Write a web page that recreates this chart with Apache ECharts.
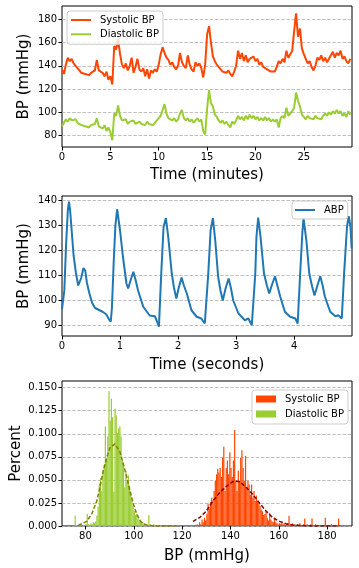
<!DOCTYPE html>
<html><head><meta charset="utf-8">
<script src="https://cdn.jsdelivr.net/npm/echarts@6/dist/echarts.min.js"></script>
<style>html,body{margin:0;padding:0;background:#fff}#c{width:359px;height:568px}</style>
</head><body><div id="c"></div>
<script>
// ---------- Data ----------
// Panel 1: per-minute trend, one sample every 0.2 min starting at 0
const trendStartMin = 0;
const trendStepMin = 0.2;
const systolicTrend = [
  137,133,141,147,144,146,142,143,138,136,
  134,135,133,134,132,134,133,136,145,136,
  137,134,131,135,128,131,124,157,154,163,
  150,141,138,142,136,140,147,134,139,146,
  137,135,138,131,137,129,136,134,137,135,
  141,150,156,151,147,145,141,143,139,137,
  140,151,143,140,138,149,141,137,135,143,
  140,142,138,130,141,167,174,160,148,144,
  141,139,137,135,136,134,136,133,131,135,
  140,153,146,151,144,149,143,146,145,148,
  144,146,141,143,139,140,137,138,135,136,
  135,139,144,142,146,143,153,147,150,153,
  170,185,165,172,155,150,146,142,144,139,
  136,140,147,145,149,144,147,143,146,149,
  152,147,151,149,153,146,148,144,142,146
];
const diastolicTrend = [
  88,91,94,92,95,93,92,94,91,92,
  89,90,88,89,87,89,88,90,95,88,
  89,86,89,84,87,83,76,99,97,106,
  97,93,92,94,90,92,91,93,90,91,
  92,90,91,89,92,90,91,89,91,93,
  92,97,102,107,99,95,94,93,95,92,
  94,99,102,95,93,95,92,94,91,93,
  95,92,94,84,81,103,119,108,105,98,
  96,93,91,93,90,92,89,87,92,90,
  93,97,94,96,93,97,94,98,95,97,
  94,96,93,95,93,96,93,95,92,94,
  92,94,87,95,97,95,104,97,99,101,
  104,117,110,105,98,96,94,97,95,96,
  94,97,95,96,94,97,99,97,100,98,
  101,99,102,99,101,97,99,96,101,98
];

// Panel 2: arterial waveform
const abpTime = [
  0.00,0.02,0.04,0.07,0.10,0.12,0.14,0.17,0.20,0.24,0.28,0.30,0.33,0.37,0.40,0.43,0.47,0.52,0.57,0.63,0.70,0.76,0.81,0.84,0.86,0.89,0.92,0.95,
  1.00,1.05,1.11,1.14,1.18,1.23,1.27,1.31,1.40,1.51,1.60,1.63,1.67,1.71,1.75,1.79,
  1.83,1.89,1.93,1.97,2.01,2.06,2.10,2.15,2.23,2.32,2.40,2.46,2.52,2.56,2.60,
  2.64,2.69,2.73,2.77,2.82,2.87,2.91,2.95,3.04,3.15,3.21,3.27,3.33,3.35,3.38,
  3.42,3.48,3.53,3.57,3.62,3.67,3.71,3.76,3.84,3.93,4.02,4.06,4.10,4.14,4.16,
  4.21,4.26,4.31,4.35,4.40,4.45,4.49,4.53,4.62,4.71,4.76,4.82,4.86,4.91,4.94,4.97,4.99
];
const abpValue = [
  96.5,97,104,122,136,139.5,136,127,118,111,106,105.5,109,113,112,107,103,99,97,96.3,95.5,94.5,92.5,91.5,97,115,130,136.5,
  128,117.5,106.8,104.8,108,111.5,108,104,97.5,94,93.7,92,89.5,111,129.5,133,
  125.5,111,105,100.8,105,109.2,106,102.8,96.1,93.5,92.8,90.8,110.8,128,133,
  124,109.5,104,100,105,108.8,105,100,94.8,92.1,92.8,90.1,110.8,125.5,133.2,
  125.5,110.8,106,102.8,106.5,109.7,106,101.5,95.5,93.5,92.8,90.8,109.5,126.8,133,
  124,110.8,105.5,102,106,109.7,106,101.5,95.5,93.7,94.1,92.8,110.8,129.5,133.7,129.5,120.8
];

// Panel 3: histograms (density per bin)
const binWidth = 0.5;
const diastolicBinStart = 75.5;
const diastolicDensity = [
  0.011,0.001,0,0.001,0,0.001,0,0.001,0,0.002,
  0.013,0.002,0.001,0.003,0.002,0.004,0.003,0.005,0.011,0.021,
  0.046,0.052,0.038,0.059,0.066,0.108,0.072,0.097,0.146,0.114,
  0.138,0.118,0.037,0.127,0.12,0.101,0.106,0.108,0.097,0.071,
  0.068,0.042,0.06,0.048,0.055,0.044,0.037,0.03,0.022,0.016,
  0.012,0.013,0.008,0.007,0.005,0.004,0.004,0.003,0.002,0.001,
  0.001,0.012,0.002,0.001,0.001,0.002,0.001,0,0.001,0.001,
  0,0.001,0,0,0,0,0,0.001,0,0.001,
  0,0.001,0,0,0,0.001
];
const systolicBinStart = 124;
const systolicDensity = [
  0,0,0,0.001,0.002,0,0.004,0.002,0.007,0.004,
  0.009,0.006,0.013,0.024,0.019,0.026,0.031,0.028,0.038,0.049,
  0.056,0.062,0.058,0.063,0.053,0.074,0.086,0.038,0.063,0.071,
  0.056,0.08,0.063,0.053,0.071,0.104,0.049,0.038,0.06,0.049,
  0.074,0.082,0.063,0.049,0.076,0.042,0.049,0.045,0.034,0.045,
  0.031,0.038,0.027,0.033,0.027,0.024,0.022,0.018,0.016,0.012,
  0.013,0.016,0.009,0.006,0.014,0.007,0.005,0.004,0.009,0.004,
  0.003,0.002,0.003,0.002,0.004,0.002,0.003,0.001,0.002,0.003,
  0.011,0.002,0.001,0.003,0.001,0.002,0,0.002,0.001,0.003,
  0.001,0,0.002,0.008,0.001,0.002,0,0.001,0.002,0.008,
  0.001,0,0.002,0.001,0,0.001,0,0.001,0,0.001,
  0.009,0.001,0,0.001,0,0.002,0,0.001,0,0.001,
  0,0.008,0
];
// fitted normal curves
const diastolicFitX = [77,78.5,80.5,82.6,84.7,86,87.4,88.8,90.2,92.2,94.3,95.7,97.1,98.4,99.8,101.2,102.6,103.9,106,110,118];
const diastolicFitY = [0.0005,0.0025,0.005,0.013,0.027,0.042,0.06,0.074,0.085,0.089,0.08,0.067,0.053,0.038,0.024,0.013,0.006,0.0025,0.0005,0,0];
const systolicFitX = [124.5,127.2,130,132.7,135.5,138.3,141,142.5,143.8,146.5,149.3,152,154.8,157.5,160.3,163,165.8,170,175,180,185];
const systolicFitY = [0.005,0.009,0.016,0.027,0.036,0.043,0.048,0.0485,0.048,0.042,0.034,0.025,0.016,0.009,0.005,0.0025,0.001,0.0003,0,0,0];

// tick labels
const trendXTicks = [0,5,10,15,20,25];
const trendYTicks = [80,100,120,140,160,180];
const abpXTicks = [0,1,2,3,4];
const abpYTicks = [90,100,110,120,130,140];
const histXTicks = [80,100,120,140,160,180];
const histYTicks = [0,0.025,0.05,0.075,0.1,0.125,0.15];

// ---------- Chart ----------
const FONT = 'DejaVu Sans';
const C_SYS = '#FF4500', C_DIA = '#9ACD32', C_ABP = '#1f77b4';
const chart = echarts.init(document.getElementById('c'), null, {renderer:'canvas', width:359, height:568});

function grid(top, height){
  return {left:62, top:top, width:290, height:height, show:true, borderColor:'#000', borderWidth:1,
          backgroundColor:'rgba(0,0,0,0)', containLabel:false, outerBoundsMode:'none'};
}
function xAxis(gi, min, max, ticks, name, gap, fmt){
  return {type:'value', gridIndex:gi, min:min, max:max, name:name, nameLocation:'middle', nameGap:gap,
    nameMoveOverlap:false,
    nameTextStyle:{color:'#000', fontFamily:FONT, fontSize:15},
    axisLine:{show:false}, splitLine:{show:false},
    axisTick:{show:true, length:3.5, customValues:ticks, lineStyle:{color:'#000', width:1}},
    axisLabel:{customValues:ticks, color:'#000', fontFamily:FONT, fontSize:10, margin:5, formatter:fmt||(v=>String(v))}};
}
function yAxis(gi, min, max, ticks, name, gap, fmt){
  return {type:'value', gridIndex:gi, min:min, max:max, name:name, nameLocation:'middle', nameGap:gap, nameRotate:90,
    nameMoveOverlap:false,
    nameTextStyle:{color:'#000', fontFamily:FONT, fontSize:15},
    axisLine:{show:false},
    splitLine:{show:true, lineStyle:{color:'#b0b0b0', width:0.8, type:[3.5,1.6]}},
    axisTick:{show:true, length:3.5, customValues:ticks, lineStyle:{color:'#000', width:1}},
    axisLabel:{customValues:ticks, color:'#000', fontFamily:FONT, fontSize:10, margin:5, formatter:fmt||(v=>String(v))}};
}
function histData(start, dens){
  return dens.map((d,i)=>[start+i*binWidth, start+(i+1)*binWidth, d]);
}
function renderBar(params, api){
  const p0 = api.coord([api.value(0), api.value(2)]);
  const p1 = api.coord([api.value(1), 0]);
  return {type:'rect', shape:{x:p0[0], y:p0[1], width:p1[0]-p0[0], height:p1[1]-p0[1]},
          style:{fill:api.visual('color')}};
}
const legendText = {color:'#000', fontFamily:FONT, fontSize:10, lineHeight:12, padding:[0,0,0,4]};
const legendBox = {backgroundColor:'rgba(255,255,255,0.8)', borderColor:'#cccccc', borderWidth:1, borderRadius:3};

const option = {
  animation:false,
  backgroundColor:'#fff',
  grid:[grid(6,141), grid(196,140), grid(381,145)],
  xAxis:[
    xAxis(0, 0, 29.98, trendXTicks, 'Time (minutes)', 21),
    xAxis(1, 0, 4.996, abpXTicks, 'Time (seconds)', 22),
    xAxis(2, 70.3, 190.3, histXTicks, 'BP (mmHg)', 23)
  ],
  yAxis:[
    yAxis(0, 70.2, 191.4, trendYTicks, 'BP (mmHg)', 30),
    yAxis(1, 85.8, 141.8, abpYTicks, 'BP (mmHg)', 30),
    yAxis(2, 0, 0.1572, histYTicks, 'Percent', 38, v=>v.toFixed(3))
  ],
  legend:[
    Object.assign({data:['Systolic BP','Diastolic BP'], orient:'vertical', left:67, top:11, padding:[3,4,4,4],
      itemGap:2.3, itemWidth:20, itemHeight:2, icon:'rect', textStyle:legendText}, legendBox),
    Object.assign({data:['ABP'], orient:'vertical', left:292, top:201, padding:[3,4,3,3],
      itemWidth:20, itemHeight:2, icon:'rect', textStyle:legendText}, legendBox),
    Object.assign({data:['Systolic BP','Diastolic BP'], orient:'vertical', left:252, top:390, padding:[3,4,4,4],
      itemGap:3, itemWidth:20, itemHeight:7, icon:'rect', textStyle:legendText}, legendBox)
  ],
  series:[
    {type:'line', name:'Systolic BP', xAxisIndex:0, yAxisIndex:0, showSymbol:false, symbol:'none',
     data:systolicTrend.map((v,i)=>[trendStartMin+i*trendStepMin, v]),
     lineStyle:{color:C_SYS, width:2}, itemStyle:{color:C_SYS}},
    {type:'line', name:'Diastolic BP', xAxisIndex:0, yAxisIndex:0, showSymbol:false, symbol:'none',
     data:diastolicTrend.map((v,i)=>[trendStartMin+i*trendStepMin, v]),
     lineStyle:{color:C_DIA, width:2}, itemStyle:{color:C_DIA}},
    {type:'line', name:'ABP', xAxisIndex:1, yAxisIndex:1, showSymbol:false, symbol:'none',
     data:abpTime.map((t,i)=>[t, abpValue[i]]),
     lineStyle:{color:C_ABP, width:2}, itemStyle:{color:C_ABP}},
    {type:'custom', name:'Systolic BP', xAxisIndex:2, yAxisIndex:2, renderItem:renderBar,
     encode:{x:[0,1], y:2}, data:histData(systolicBinStart, systolicDensity), itemStyle:{color:C_SYS}},
    {type:'custom', name:'Diastolic BP', xAxisIndex:2, yAxisIndex:2, renderItem:renderBar,
     encode:{x:[0,1], y:2}, data:histData(diastolicBinStart, diastolicDensity), itemStyle:{color:C_DIA}},
    {type:'line', name:'dia fit', xAxisIndex:2, yAxisIndex:2, showSymbol:false, symbol:'none', z:5,
     data:diastolicFitX.map((x,i)=>[x, diastolicFitY[i]]),
     lineStyle:{color:'#808000', width:1.5, type:[4,2]}},
    {type:'line', name:'sys fit', xAxisIndex:2, yAxisIndex:2, showSymbol:false, symbol:'none', z:5,
     data:systolicFitX.map((x,i)=>[x, systolicFitY[i]]),
     lineStyle:{color:'#8B0000', width:1.5, type:[4,2]}}
  ]
};
chart.setOption(option);
</script>
</body></html>
